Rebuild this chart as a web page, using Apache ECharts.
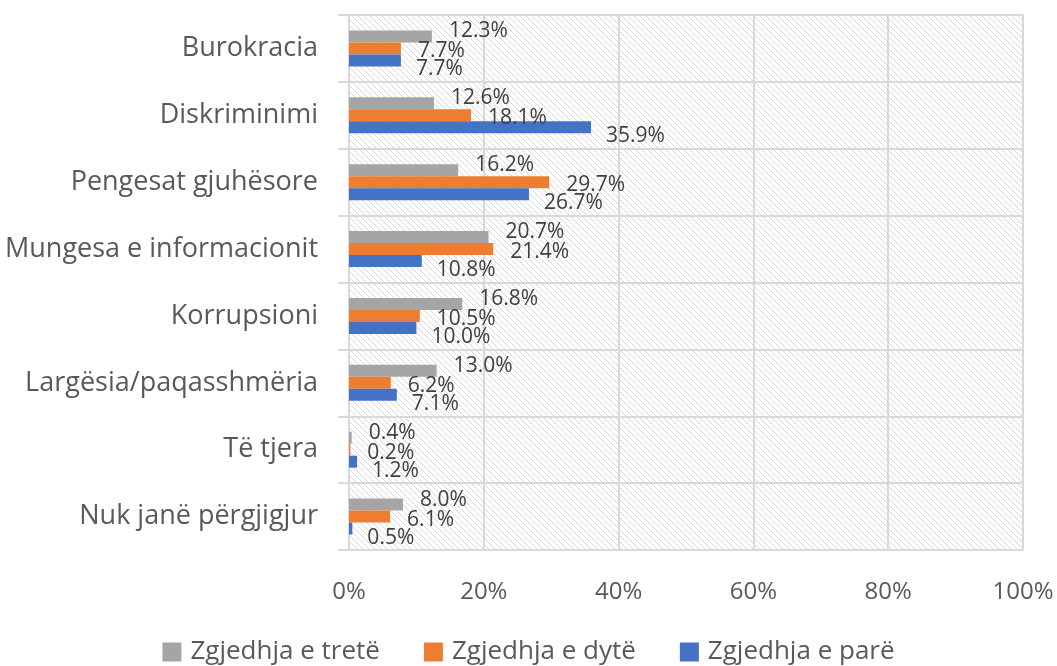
<!DOCTYPE html>
<html>
<head>
<meta charset="utf-8">
<script src="https://cdn.jsdelivr.net/npm/echarts@6/dist/echarts.min.js"></script>
<style>html,body{margin:0;padding:0;background:#fff}#c{width:1057px;height:666px}</style>
</head>
<body>
<div id="c"></div>
<script>
const categories = ["Burokracia","Diskriminimi","Pengesat gjuhësore","Mungesa e informacionit","Korrupsioni","Largësia/paqasshmëria","Të tjera","Nuk janë përgjigjur"];
const seriesNames = ["Zgjedhja e tretë","Zgjedhja e dytë","Zgjedhja e parë"];
const third = [12.3,12.6,16.2,20.7,16.8,13.0,0.4,8.0];
const second = [7.7,18.1,29.7,21.4,10.5,6.2,0.2,6.1];
const first = [7.7,35.9,26.7,10.8,10.0,7.1,1.2,0.5];
const xTicks = [0,20,40,60,80,100];

const colors = ['#A5A5A5','#ED7D31','#4472C4'];
const font = '"Open Sans"';

// hatch pattern for plot background
const pc = document.createElement('canvas');
pc.width = 6; pc.height = 6;
const px = pc.getContext('2d');
px.fillStyle = '#ffffff'; px.fillRect(0,0,6,6);
px.strokeStyle = '#d9d9d9'; px.lineWidth = 1;
px.beginPath();
px.moveTo(-1,-1); px.lineTo(7,7);
px.moveTo(-1,5); px.lineTo(1,7);
px.moveTo(5,-1); px.lineTo(7,1);
px.stroke();

const chart = echarts.init(document.getElementById('c'));
const labelOffsets = [[17,-5],[17,3],[15,9]];
const dataSets = [third, second, first];
const series = dataSets.map((d,i)=>({
  name: seriesNames[i],
  type: 'bar',
  data: d,
  barWidth: 12,
  barGap: '0%',
  itemStyle: {color: colors[i]},
  label: {
    show: true,
    position: 'right',
    distance: labelOffsets[i][0],
    offset: [0, labelOffsets[i][1]],
    formatter: p => p.value.toFixed(1) + '%',
    color: '#404040',
    fontFamily: font,
    fontSize: 21
  }
}));

chart.setOption({
  animation: false,
  grid: {
    left: 349, right: 34, top: 15, bottom: 116,
    show: true,
    borderWidth: 0,
    backgroundColor: {image: pc, repeat: 'repeat'}
  },
  legend: {
    bottom: -4,
    left: 'center',
    icon: 'rect',
    itemWidth: 19, itemHeight: 19,
    itemGap: 44,
    data: seriesNames,
    textStyle: {color: '#595959', fontFamily: font, fontSize: 26, padding: [0, 0, 0, 4]}
  },
  xAxis: {
    type: 'value',
    min: 0, max: 100, interval: 20,
    axisLine: {show: false},
    axisTick: {show: false},
    axisLabel: {formatter: v => xTicks.includes(v) ? v + '%' : '', color: '#595959', fontFamily: font, fontSize: 24, margin: 30},
    splitLine: {show: true, lineStyle: {color: '#d9d9d9', width: 2}}
  },
  yAxis: {
    type: 'category',
    data: categories,
    inverse: true,
    axisLine: {show: true, lineStyle: {color: '#d9d9d9', width: 2}},
    axisTick: {show: true, length: 11, lineStyle: {color: '#d9d9d9', width: 2}},
    axisLabel: {color: '#595959', fontFamily: font, fontSize: 27, margin: 31},
    splitLine: {show: true, lineStyle: {color: '#d9d9d9', width: 2}}
  },
  series: series
});
</script>
</body>
</html>
